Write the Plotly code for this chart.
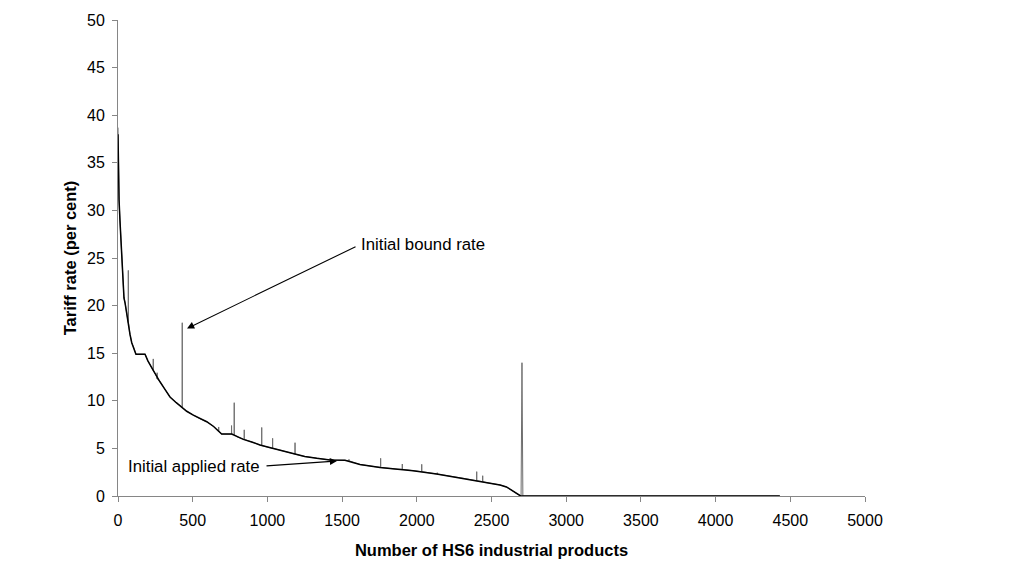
import plotly.graph_objects as go

# Initial applied rate (sorted product tariffs)
applied_x = [0, 3, 7, 13, 25, 40, 47, 58, 69, 80, 92, 105, 120, 181, 200, 236, 260, 281,
             310, 348, 390, 426, 460, 504, 550, 594, 640, 694, 761, 800, 839, 900, 950,
             1040, 1100, 1173, 1250, 1330, 1419, 1519, 1620, 1754, 1874, 1975, 2133, 2311,
             2468, 2557, 2600, 2635, 2680, 2695, 2720, 4430]
applied_y = [38.0, 34.5, 31.1, 29.0, 25.0, 20.8, 20.3, 19.0, 18.2, 17.0, 16.1, 15.6, 14.9,
             14.9, 14.2, 13.2, 12.5, 12.0, 11.3, 10.4, 9.8, 9.3, 8.9, 8.5, 8.1, 7.8, 7.3,
             6.5, 6.5, 6.2, 5.95, 5.65, 5.36, 5.0, 4.75, 4.4, 4.15, 3.96, 3.78, 3.75, 3.3,
             3.0, 2.8, 2.66, 2.31, 1.86, 1.40, 1.16, 0.95, 0.63, 0.21, 0.0, 0.0, 0.0]

# Initial bound rate: follows applied rate, with spikes where bound > applied
spike_x = [69, 236, 262, 430, 674, 760, 778, 845, 962, 1035, 1185, 1546, 1758, 1903,
           2033, 2137, 2401, 2441, 2704]
spike_base = [18.3, 13.2, 12.3, 9.3, 6.75, 6.5, 6.45, 5.95, 5.3, 5.0, 4.4, 3.7, 3.0, 2.8,
              2.55, 2.3, 1.6, 1.5, 0.1]
spike_peak = [23.7, 14.4, 12.95, 18.2, 7.25, 7.4, 9.8, 6.95, 7.2, 6.06, 5.6, 3.85, 3.96,
              3.36, 3.33, 2.45, 2.56, 2.13, 14.0]
bound_start = 38.7

x_ticks = [0, 500, 1000, 1500, 2000, 2500, 3000, 3500, 4000, 4500, 5000]
y_ticks = [0, 5, 10, 15, 20, 25, 30, 35, 40, 45, 50]

# build bound series
pts = [(ax_, ay_, 0) for ax_, ay_ in zip(applied_x, applied_y)]
pts[0] = (0, bound_start, 0)
for sx, sb, sp in zip(spike_x, spike_base, spike_peak):
    w = 6 if sx > 2600 else 0.5
    pts.append((sx - w, sb, 1))
    pts.append((sx, sp, 2))
    pts.append((sx + w, sb if sx < 2600 else 0.0, 3))
pts.sort(key=lambda p: (p[0], p[2]))
# drop applied points that fall inside the final wide spike
pts = [p for p in pts if not (p[2] == 0 and 2697 < p[0] < 2711)]
bound_x = [p[0] for p in pts]
bound_y = [p[1] for p in pts]

font = "Liberation Sans, Arial, sans-serif"
axis_col = "#868686"

fig = go.Figure()
fig.add_trace(go.Scatter(x=bound_x, y=bound_y, mode="lines", name="Initial bound rate",
                         line=dict(color="#6e6e6e", width=1), hoverinfo="skip"))
fig.add_trace(go.Scatter(x=applied_x, y=applied_y, mode="lines", name="Initial applied rate",
                         line=dict(color="#000000", width=1.5), hoverinfo="skip"))

# arrows
fig.add_annotation(x=462, y=17.6, ax=1600, ay=26.26, xref="x", yref="y", axref="x", ayref="y",
                   text="", showarrow=True, arrowhead=2, arrowsize=1.3, arrowwidth=1.1,
                   arrowcolor="#000000", standoff=0)
fig.add_annotation(x=1466, y=3.68, ax=984, ay=3.15, xref="x", yref="y", axref="x", ayref="y",
                   text="", showarrow=True, arrowhead=2, arrowsize=1.3, arrowwidth=1.1,
                   arrowcolor="#000000", standoff=0)
fig.add_annotation(x=1613, y=26.4, xref="x", yref="y", text="Initial bound rate",
                   showarrow=False, xanchor="left", yanchor="middle",
                   font=dict(family=font, size=16.8, color="#000000"))
fig.add_annotation(x=964, y=3.15, xref="x", yref="y", text="Initial applied rate",
                   showarrow=False, xanchor="right", yanchor="middle",
                   font=dict(family=font, size=16.8, color="#000000"))

fig.update_layout(
    width=1028, height=564,
    margin=dict(l=118, r=163, t=20, b=68, autoexpand=False),
    paper_bgcolor="white", plot_bgcolor="white",
    showlegend=False,
    font=dict(family=font, size=16, color="#000000"),
    xaxis=dict(range=[0, 5000], tickvals=x_ticks, ticktext=[str(v) for v in x_ticks],
               showgrid=False, zeroline=False, showline=True, linecolor=axis_col,
               linewidth=1, ticks="outside", ticklen=5, tickcolor=axis_col,
               ticklabelstandoff=5,
               tickfont=dict(family=font, size=16, color="#000000"),
               title=dict(text="<b>Number of HS6 industrial products</b>", standoff=16,
                          font=dict(family=font, size=16.5, color="#000000"))),
    yaxis=dict(range=[0, 50], tickvals=y_ticks, ticktext=[str(v) for v in y_ticks],
               showgrid=False, zeroline=False, showline=True, linecolor=axis_col,
               linewidth=1, ticks="outside", ticklen=5, tickcolor=axis_col,
               ticklabelstandoff=4,
               tickfont=dict(family=font, size=16, color="#000000"),
               title=dict(text="<b>Tariff rate (per cent)</b>", standoff=6,
                          font=dict(family=font, size=16.5, color="#000000"))),
)

fig.write_html("out.html")
